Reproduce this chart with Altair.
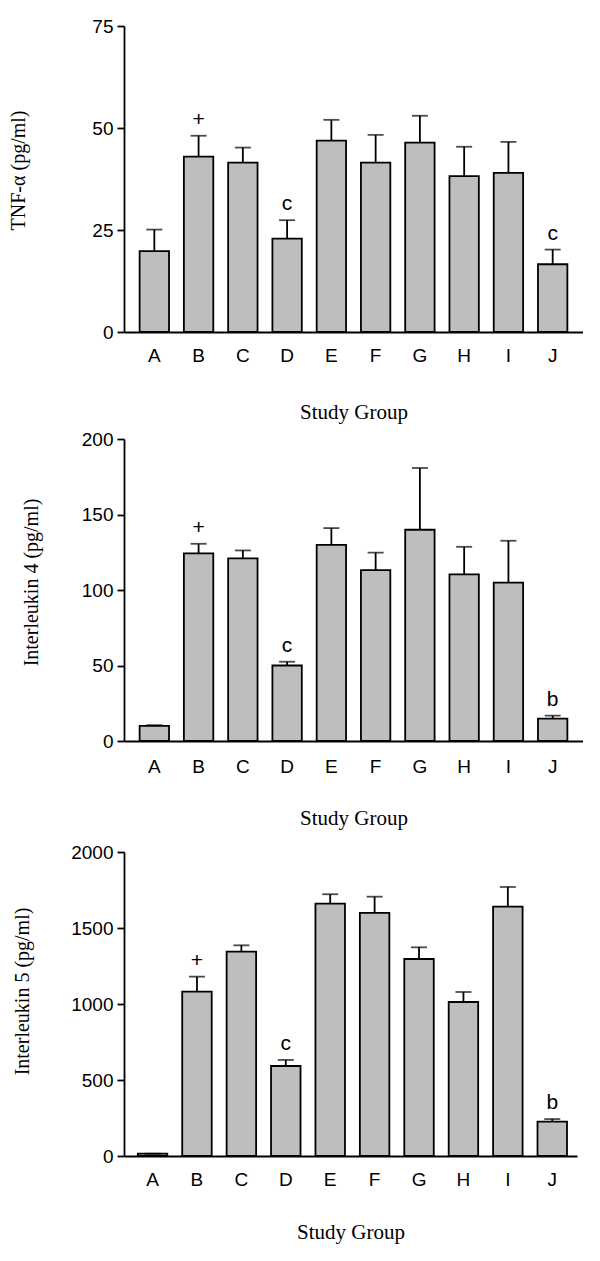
import altair as alt
import pandas as pd

groups = list("ABCDEFGHIJ")

tnf_mean = [19.8, 43.0, 41.5, 22.9, 46.9, 41.5, 46.4, 38.2, 39.0, 16.6]
tnf_err = [5.3, 5.1, 3.7, 4.5, 5.1, 6.8, 6.6, 7.2, 7.6, 3.6]
tnf_sig = ["", "+", "", "c", "", "", "", "", "", "c"]

il4_mean = [10.0, 124.2, 120.9, 50.0, 129.9, 113.1, 139.9, 110.4, 104.9, 14.8]
il4_err = [0.5, 6.4, 5.3, 2.5, 11.1, 11.7, 40.9, 18.2, 27.7, 2.0]
il4_sig = ["", "+", "", "c", "", "", "", "", "", "b"]

il5_mean = [15, 1081, 1344, 592, 1660, 1599, 1296, 1013, 1640, 226]
il5_err = [0, 99, 42, 40, 62, 107, 77, 66, 130, 17]
il5_sig = ["", "+", "", "c", "", "", "", "", "", "b"]

BAR_FILL = "#bebebe"
LW = 1.8


def panel(means, errs, sig, ymax, yticks, ytitle, width, height, pad_outer, align,
          bx, btop, bbot, title_x, title_y, label_pad, xtitle_y):
    df = pd.DataFrame({
        "group": groups,
        "mean": means,
        "upper": [m + e for m, e in zip(means, errs)],
        "sig": sig,
    })
    base = alt.Chart(df)
    xscale = alt.Scale(paddingInner=0.336, paddingOuter=pad_outer, align=align)
    xaxis = alt.Axis(title="Study Group", labelAngle=0, ticks=False, tickSize=0,
                     labelPadding=label_pad, titleY=xtitle_y, titleBaseline="middle",
                     titleFontSize=21)
    yscale = alt.Scale(domain=[0, ymax], nice=False, zero=True)
    yaxis = alt.Axis(title=ytitle, values=yticks, format="d", tickSize=7, labelPadding=4,
                     titleX=title_x, titleY=title_y)
    x = alt.X("group:N", sort=groups, scale=xscale, axis=xaxis)

    bars = base.mark_bar(color=BAR_FILL, stroke="black", strokeWidth=LW).encode(
        x=x, y=alt.Y("mean:Q", scale=yscale, axis=yaxis))
    err = base.mark_rule(color="black", strokeWidth=LW).encode(
        x=x, y=alt.Y("mean:Q", scale=yscale, axis=yaxis), y2="upper:Q")
    cap = base.mark_tick(color="black", size=16, thickness=LW, orient="horizontal").encode(
        x=x, y=alt.Y("upper:Q", scale=yscale, axis=yaxis))
    txt = base.mark_text(dy=-10, baseline="alphabetic", fontSize=21,
                         font="Liberation Sans", color="black").encode(
        x=x, y=alt.Y("upper:Q", scale=yscale, axis=yaxis), text="sig:N")
    spacer = alt.Chart(pd.DataFrame({"a": [0]})).mark_rule(
        color="white", strokeWidth=0.5).encode(
        x=alt.value(bx), x2=alt.value(bx), y=alt.value(btop), y2=alt.value(bbot))
    return alt.layer(bars, err, cap, txt, spacer).properties(width=width, height=height)


p1 = panel(tnf_mean, tnf_err, tnf_sig, 75, [0, 25, 50, 75], "TNF-α (pg/ml)",
           459, 306, 0.353, 0.5, -115.3, -17.3, 397.7, -95.3, 144, 14, 80)
p2 = panel(il4_mean, il4_err, il4_sig, 200, [0, 50, 100, 150, 200], "Interleukin 4 (pg/ml)",
           459, 302, 0.353, 0.5, -104.3, -14, 394, -82.3, 143, 16, 77)
p3 = panel(il5_mean, il5_err, il5_sig, 2000, [0, 500, 1000, 1500, 2000], "Interleukin 5 (pg/ml)",
           453, 304, 0.268, 0.58, -111.3, -17.7, 397, -91.3, 139, 14, 76)

chart = alt.concat(p1, p2, p3, columns=1, spacing=0, align="none", bounds="full").properties(
    padding=0
).configure_axis(
    domainColor="black", domainWidth=LW, tickColor="black", tickWidth=LW,
    labelColor="black", labelFont="Liberation Sans", labelFontSize=19,
    titleFont="Liberation Serif", titleFontSize=20, titleFontWeight="normal",
    titleColor="black", grid=False
).configure_view(stroke=None)

chart.save("out.html", embed_options={"renderer": "svg", "actions": False})
